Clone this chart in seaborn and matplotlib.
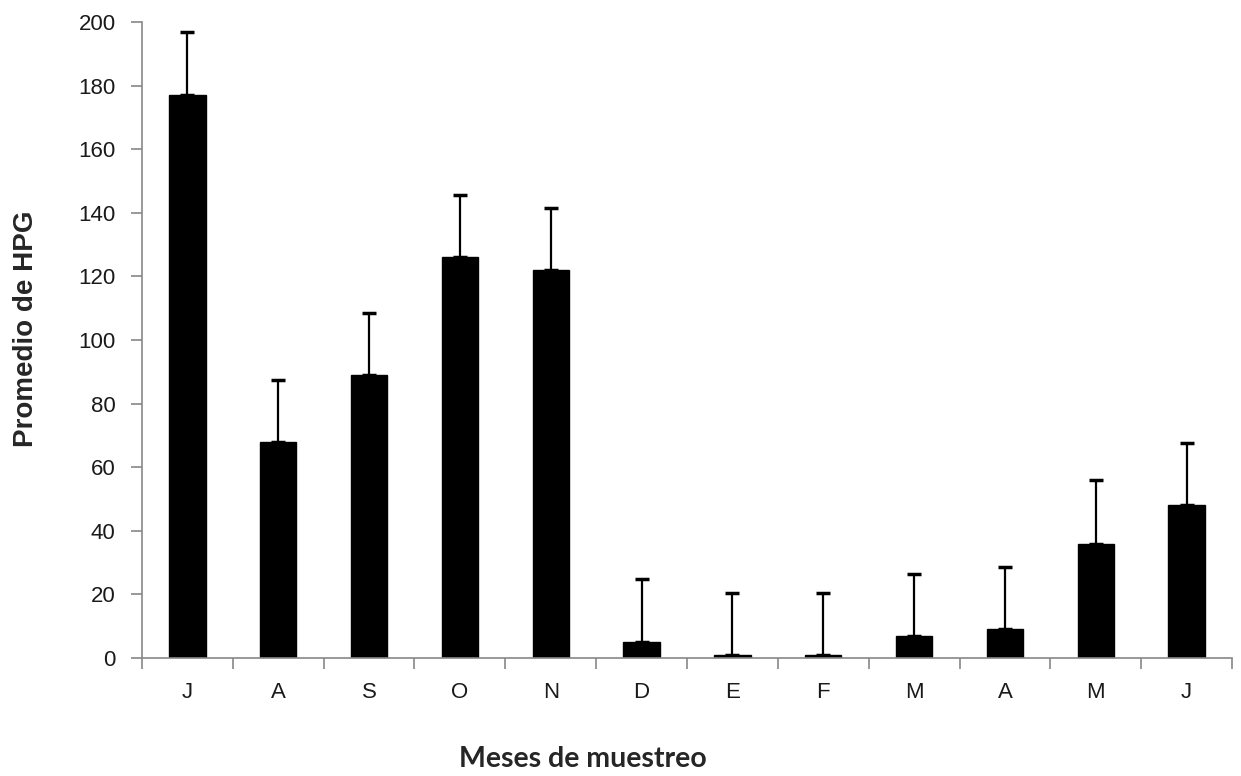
import numpy as np
import pandas as pd
import matplotlib
matplotlib.use("Agg")
import matplotlib.pyplot as plt
import seaborn as sns

months = ["J", "A", "S", "O", "N", "D", "E", "F", "M", "A", "M", "J"]
means = [177, 68, 89, 126, 122, 5, 1, 1, 7, 9, 36, 48]
errors = [20, 19.5, 19.5, 19.5, 19.5, 20, 19.5, 19.5, 19.5, 19.5, 20, 19.5]
y_ticks = [0, 20, 40, 60, 80, 100, 120, 140, 160, 180, 200]

sns.set_theme(style="ticks")
plt.rcParams['font.family'] = ['Liberation Sans', 'DejaVu Sans']

df = pd.DataFrame({"pos": list(range(len(months))), "mean": means, "err": errors})

fig = plt.figure(figsize=(12.41, 7.76), dpi=100)
ax = fig.add_axes([0.1144, 0.152, 0.8784, 0.8196])

sns.barplot(data=df, x="pos", y="mean", color="black", width=0.4,
            edgecolor="black", linewidth=1, ax=ax, saturation=1)
ax.errorbar(df["pos"], df["mean"], yerr=[np.zeros(len(df)), df["err"]],
            fmt="none", ecolor="black", elinewidth=1.6, capsize=5, capthick=2.5)

ax.set_xlim(-0.5, len(months) - 0.5)
ax.set_ylim(0, 200)
ax.set_yticks(y_ticks)
ax.set_yticklabels([str(v) for v in y_ticks])
ax.set_xticks(range(len(months)))
ax.set_xticklabels(months)
ax.set_xticks(np.arange(-0.5, len(months)), minor=True)
ax.tick_params(axis="x", which="major", length=0, pad=17, labelsize=16, labelcolor="#1a1a1a")
ax.tick_params(axis="x", which="minor", length=8, width=1.2, color="#888888", direction="out")
ax.tick_params(axis="y", length=8, width=1.2, color="#888888", pad=11, labelsize=16, labelcolor="#1a1a1a")

for s in ["top", "right"]:
    ax.spines[s].set_visible(False)
for s in ["left", "bottom"]:
    ax.spines[s].set_color("#888888")
    ax.spines[s].set_linewidth(1.2)

ax.set_xlabel("")
ax.set_ylabel("")
fig.text(0.021, 0.5767, "Promedio de HPG", rotation=90, ha="center", va="center",
         fontsize=20, fontweight="bold", family=["Liberation Sans", "DejaVu Sans"])
fig.text(0.47, 0.0215, "Meses de muestreo", ha="center", va="center",
         fontsize=20.5, fontweight="bold", family=["Lato", "DejaVu Sans"])

fig.savefig("out.png", dpi=100)
